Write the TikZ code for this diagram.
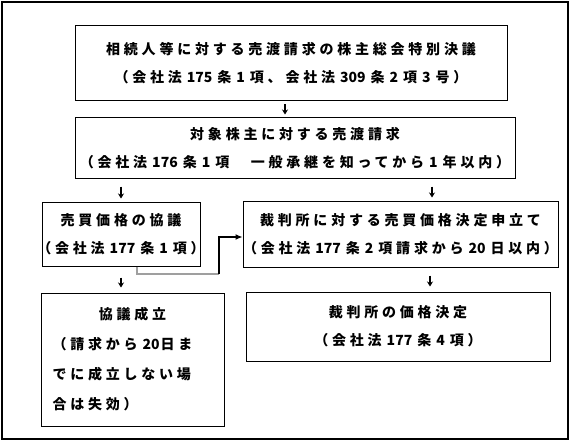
\documentclass[tikz,border=0pt]{standalone}
\usepackage{fontspec}
\setmainfont{Noto Sans CJK JP}[LetterSpace=27]
\usetikzlibrary{arrows.meta}

% 数字は字間を詰めて前後を空ける
\newcommand{\suji}[1]{\hspace{5pt}{\addfontfeatures{LetterSpace=0}#1}\hspace{5pt}}
\newcommand{\gyo}[1]{\makebox[\hsize]{#1}}

\tikzset{
  kakomi/.style={draw, line width=1pt, inner sep=0pt, align=center,
    font=\fontsize{14}{28}\selectfont\bfseries},
  yajirushi/.style={line width=1.5pt, -{Stealth[length=5pt,width=6pt]}},
  haiiro/.style={line width=1.3pt, gray!75},
  sen/.style={line width=1.1pt, -{Latex[length=7pt,width=6pt]}},
}

\begin{document}
\begin{tikzpicture}[x=1pt,y=-1pt]
\useasboundingbox (0,0) rectangle (570,441);

\draw[line width=1.2pt] (2,2) rectangle (568,439); % 外枠

\node[kakomi, minimum width=432pt, minimum height=75pt, text width=420pt] (ketsugi) at (291,63.5)
  {\gyo{相続人等に対する売渡請求の株主総会特別決議}\\
   \gyo{（会社法\suji{175}条\suji{1}項、会社法\suji{309}条\suji{2}項\suji{3}号）}};
\node[kakomi, minimum width=440pt, minimum height=60pt, text width=430pt] (seikyu) at (295,148)
  {\gyo{対象株主に対する売渡請求}\\
   \gyo{（会社法\suji{176}条\suji{1}項　一般承継を知ってから\suji{1}年以内）}};
\node[kakomi, minimum width=158pt, minimum height=64pt, text width=150pt] (kyogi) at (121,234)
  {\gyo{売買価格の協議}\\
   \gyo{（会社法\suji{177}条\suji{1}項）}};
\node[kakomi, minimum width=315pt, minimum height=66pt, text width=305pt] (moshitate) at (400.5,234)
  {\gyo{裁判所に対する売買価格決定申立て}\\
   \gyo{（会社法\suji{177}条\suji{2}項請求から\suji{20}日以内）}};
\node[kakomi, minimum width=183pt, minimum height=133pt, text width=160pt, align=left,
  font=\fontsize{14}{30}\selectfont\bfseries] (seiritsu) at (132.5,359.5)
  {\gyo{協議成立}\\（請求から\hspace{5pt}{\addfontfeatures{LetterSpace=0}20}\hspace{1pt}日ま\\でに成立しない場\\合は失効）};
\node[kakomi, minimum width=304pt, minimum height=69pt, text width=290pt] (kettei) at (398,326.5)
  {\gyo{裁判所の価格決定}\\
   \gyo{（会社法\suji{177}条\suji{4}項）}};

% 矢印
\draw[yajirushi, shorten <=3pt, shorten >=3pt] (ketsugi.south -| 285,0) -- (seikyu.north -| 285,0);
\draw[yajirushi, shorten <=8pt, shorten >=3pt] (seikyu.south -| 121,0) -- (kyogi.north -| 121,0);
\draw[yajirushi, shorten <=8pt, shorten >=3pt] (seikyu.south -| 432,0) -- (moshitate.north -| 432,0);
\draw[yajirushi, shorten <=11pt, shorten >=5pt] (kyogi.south -| 121,0) -- (seiritsu.north -| 121,0);
\draw[yajirushi, shorten <=8pt, shorten >=5pt] (moshitate.south -| 430,0) -- (kettei.north -| 430,0);

% 協議 → 申立て
\coordinate (kado) at (219,274);
\draw[haiiro] (kyogi.south -| 137,0) |- (kado);
\draw[sen] (kado) |- (moshitate.west |- 0,237);

\end{tikzpicture}
\end{document}
